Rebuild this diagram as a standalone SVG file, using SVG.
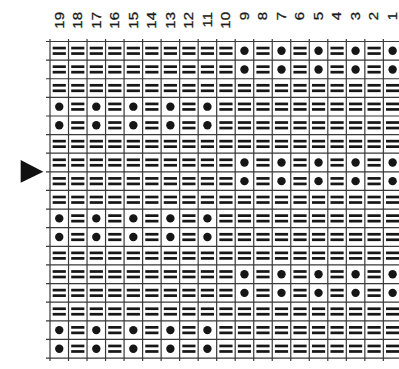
<svg xmlns="http://www.w3.org/2000/svg" xmlns:xlink="http://www.w3.org/1999/xlink" width="399" height="369" viewBox="0 0 399 369">
<style>
.lbl{font-family:"Liberation Sans",Arial,sans-serif;font-size:12.5px;fill:#1a1a1a;text-anchor:end;stroke:#1a1a1a;stroke-width:0.3}
.grid{fill:none;stroke:#3a3a3a;stroke-width:1.2}
.sym{fill:#161616}
</style>
<defs>
<g id="e" class="sym"><rect x="-6.6" y="-4.1" width="13.2" height="2.7"/><rect x="-6.6" y="1.4" width="13.2" height="2.7"/></g>
<circle id="d" class="sym" r="4.2"/>
<g id="rowA">
<use href="#e" x="59.26"/><use href="#e" x="77.78"/><use href="#e" x="96.30"/><use href="#e" x="114.82"/><use href="#e" x="133.34"/><use href="#e" x="151.86"/><use href="#e" x="170.38"/><use href="#e" x="188.90"/><use href="#e" x="207.42"/><use href="#e" x="225.94"/><use href="#e" x="244.46"/><use href="#e" x="262.98"/><use href="#e" x="281.50"/><use href="#e" x="300.02"/><use href="#e" x="318.54"/><use href="#e" x="337.06"/><use href="#e" x="355.58"/><use href="#e" x="374.10"/><use href="#e" x="392.62"/>
</g>
<g id="rowR">
<use href="#e" x="59.26"/><use href="#e" x="77.78"/><use href="#e" x="96.30"/><use href="#e" x="114.82"/><use href="#e" x="133.34"/><use href="#e" x="151.86"/><use href="#e" x="170.38"/><use href="#e" x="188.90"/><use href="#e" x="207.42"/><use href="#e" x="225.94"/><use href="#d" x="244.46"/><use href="#e" x="262.98"/><use href="#d" x="281.50"/><use href="#e" x="300.02"/><use href="#d" x="318.54"/><use href="#e" x="337.06"/><use href="#d" x="355.58"/><use href="#e" x="374.10"/><use href="#d" x="392.62"/>
</g>
<g id="rowL">
<use href="#d" x="59.26"/><use href="#e" x="77.78"/><use href="#d" x="96.30"/><use href="#e" x="114.82"/><use href="#d" x="133.34"/><use href="#e" x="151.86"/><use href="#d" x="170.38"/><use href="#e" x="188.90"/><use href="#d" x="207.42"/><use href="#e" x="225.94"/><use href="#e" x="244.46"/><use href="#e" x="262.98"/><use href="#e" x="281.50"/><use href="#e" x="300.02"/><use href="#e" x="318.54"/><use href="#e" x="337.06"/><use href="#e" x="355.58"/><use href="#e" x="374.10"/><use href="#e" x="392.62"/>
</g>
</defs>
<rect width="399" height="369" fill="#ffffff"/>
<g id="labels">
<text class="lbl" transform="translate(59.26,12) rotate(-90) scale(1.2,1)" y="4.3">19</text>
<text class="lbl" transform="translate(77.78,12) rotate(-90) scale(1.2,1)" y="4.3">18</text>
<text class="lbl" transform="translate(96.30,12) rotate(-90) scale(1.2,1)" y="4.3">17</text>
<text class="lbl" transform="translate(114.82,12) rotate(-90) scale(1.2,1)" y="4.3">16</text>
<text class="lbl" transform="translate(133.34,12) rotate(-90) scale(1.2,1)" y="4.3">15</text>
<text class="lbl" transform="translate(151.86,12) rotate(-90) scale(1.2,1)" y="4.3">14</text>
<text class="lbl" transform="translate(170.38,12) rotate(-90) scale(1.2,1)" y="4.3">13</text>
<text class="lbl" transform="translate(188.90,12) rotate(-90) scale(1.2,1)" y="4.3">12</text>
<text class="lbl" transform="translate(207.42,12) rotate(-90) scale(1.2,1)" y="4.3">11</text>
<text class="lbl" transform="translate(225.94,12) rotate(-90) scale(1.2,1)" y="4.3">10</text>
<text class="lbl" transform="translate(244.46,12) rotate(-90) scale(1.2,1)" y="4.3">9</text>
<text class="lbl" transform="translate(262.98,12) rotate(-90) scale(1.2,1)" y="4.3">8</text>
<text class="lbl" transform="translate(281.50,12) rotate(-90) scale(1.2,1)" y="4.3">7</text>
<text class="lbl" transform="translate(300.02,12) rotate(-90) scale(1.2,1)" y="4.3">6</text>
<text class="lbl" transform="translate(318.54,12) rotate(-90) scale(1.2,1)" y="4.3">5</text>
<text class="lbl" transform="translate(337.06,12) rotate(-90) scale(1.2,1)" y="4.3">4</text>
<text class="lbl" transform="translate(355.58,12) rotate(-90) scale(1.2,1)" y="4.3">3</text>
<text class="lbl" transform="translate(374.10,12) rotate(-90) scale(1.2,1)" y="4.3">2</text>
<text class="lbl" transform="translate(392.62,12) rotate(-90) scale(1.2,1)" y="4.3">1</text>
</g>
<g id="grid">
<path class="grid" d="M50 39V361M68.52 39V361M87.04 39V361M105.56 39V361M124.08 39V361M142.6 39V361M161.12 39V361M179.64 39V361M198.16 39V361M216.68 39V361M235.2 39V361M253.72 39V361M272.24 39V361M290.76 39V361M309.28 39V361M327.8 39V361M346.32 39V361M364.84 39V361M383.36 39V361M401.88 39V361"/>
<path class="grid" d="M46 41.5H399M46 60.12H399M46 78.74H399M46 97.36H399M46 115.98H399M46 134.6H399M46 153.22H399M46 171.84H399M46 190.46H399M46 209.08H399M46 227.7H399M46 246.32H399M46 264.94H399M46 283.56H399M46 302.18H399M46 320.8H399M46 339.42H399M46 358.04H399"/>
</g>
<g id="cells">
<use href="#rowR" y="50.81"/>
<use href="#rowR" y="69.43"/>
<use href="#rowA" y="88.05"/>
<use href="#rowL" y="106.67"/>
<use href="#rowL" y="125.29"/>
<use href="#rowA" y="143.91"/>
<use href="#rowR" y="162.53"/>
<use href="#rowR" y="181.15"/>
<use href="#rowA" y="199.77"/>
<use href="#rowL" y="218.39"/>
<use href="#rowL" y="237.01"/>
<use href="#rowA" y="255.63"/>
<use href="#rowR" y="274.25"/>
<use href="#rowR" y="292.87"/>
<use href="#rowA" y="311.49"/>
<use href="#rowL" y="330.11"/>
<use href="#rowL" y="348.73"/>
</g>
<g id="arrow">
<polygon points="20.7,160 20.7,182.7 43.3,171.7" fill="#111"/>
</g>
</svg>
